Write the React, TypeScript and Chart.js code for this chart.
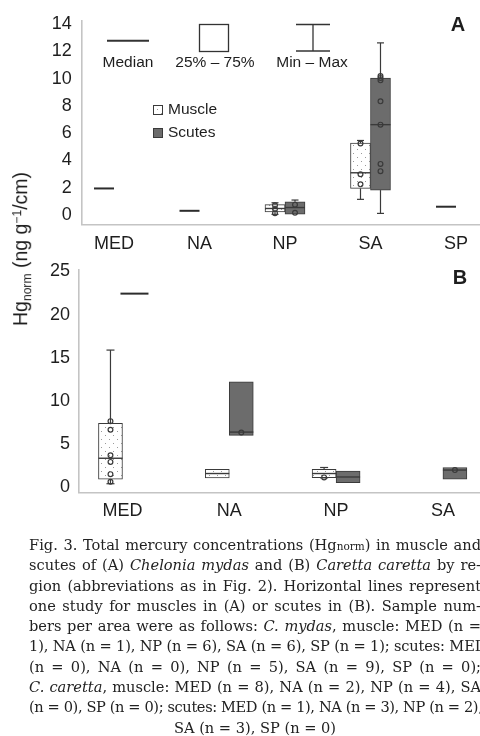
import React, { useEffect, useRef } from 'react';
import { Chart, registerables } from 'chart.js';
Chart.register(...registerables);

const FONT = "'Liberation Sans', Arial, Helvetica, sans-serif";
const TEXT = '#1e1e1e';
const AXIS = '#c4c4c4';
const EDGE = '#3a3a3a';
const SCUTE_FILL = '#6c6c6c';

// ---------- Panel A : Chelonia mydas ----------
const CATS_A = ['MED', 'NA', 'NP', 'SA', 'SP'];
const TICKS_A = [0, 2, 4, 6, 8, 10, 12, 14];
const A_MUSCLE_Q1 = [null, null, 0.22, 1.95, null];
const A_MUSCLE_Q3 = [null, null, 0.76, 5.28, null];
const A_MUSCLE_MEDIAN = [null, null, 0.48, 3.1, null];
const A_MUSCLE_MIN = [null, null, 0.05, 1.15, null];
const A_MUSCLE_MAX = [null, null, 0.9, 5.47, null];
const A_MUSCLE_POINTS = [[], [], [0.13, 0.45, 0.72], [5.25, 3.0, 2.25], []];
const A_SCUTES_Q1 = [null, null, 0.06, 1.83, null];
const A_SCUTES_Q3 = [null, null, 0.97, 10.05, null];
const A_SCUTES_MEDIAN = [null, null, 0.55, 6.63, null];
const A_SCUTES_MIN = [null, null, 0.06, 0.12, null];
const A_SCUTES_MAX = [null, null, 1.1, 12.63, null];
const A_SCUTES_POINTS = [[], [], [0.17, 0.76], [10.2, 10.05, 9.88, 8.34, 6.63, 3.75, 3.22], []];
const A_STUDY_MUSCLE = [1.95, 0.31, null, null, 0.61];

// ---------- Panel B : Caretta caretta ----------
const CATS_B = ['MED', 'NA', 'NP', 'SA'];
const TICKS_B = [0, 5, 10, 15, 20, 25];
const B_MUSCLE_Q1 = [0.95, 1.1, 1.12, null];
const B_MUSCLE_Q3 = [7.43, 2.1, 2.1, null];
const B_MUSCLE_MEDIAN = [3.37, 1.6, 1.6, null];
const B_MUSCLE_MIN = [0.42, 1.1, 1.1, null];
const B_MUSCLE_MAX = [15.9, 2.1, 2.3, null];
const B_MUSCLE_POINTS = [[7.67, 6.67, 3.72, 2.95, 1.53, 0.65], [], [1.15], []];
const B_SCUTES_Q1 = [null, 6.02, 0.53, 0.95];
const B_SCUTES_Q3 = [null, 12.23, 1.88, 2.3];
const B_SCUTES_MEDIAN = [null, 6.4, 1.2, 2.0];
const B_SCUTES_MIN = [null, 6.02, 0.53, 0.95];
const B_SCUTES_MAX = [null, 12.23, 1.88, 2.3];
const B_SCUTES_POINTS = [[], [6.35], [], [2.0]];
const B_STUDY_SCUTES = [22.44, null, null, null];

const LEGEND_MEDIAN = 'Median';
const LEGEND_IQR = '25% – 75%';
const LEGEND_RANGE = 'Min – Max';
const SERIES = ['Muscle', 'Scutes'];

function makePattern(): CanvasPattern | string {
  const c = document.createElement('canvas');
  c.width = 8; c.height = 8;
  const g = c.getContext('2d');
  if (!g) return '#ffffff';
  g.fillStyle = '#ffffff';
  g.fillRect(0, 0, 8, 8);
  g.fillStyle = '#9a9a9a';
  g.fillRect(1, 1, 1, 1);
  g.fillRect(5, 5, 1, 1);
  const p = g.createPattern(c, 'repeat');
  return p || '#ffffff';
}

function boxData(q1: (number | null)[], q3: (number | null)[]) {
  return q1
    .map((v, i) => (v == null ? null : { x: i, y: [v, q3[i] as number] }))
    .filter(Boolean);
}

function seg(ctx: CanvasRenderingContext2D, x1: number, y1: number, x2: number, y2: number) {
  ctx.beginPath();
  ctx.moveTo(x1, y1);
  ctx.lineTo(x2, y2);
  ctx.stroke();
}

function makeDecor(cfg: any) {
  return {
    id: 'decor',
    afterDatasetsDraw(chart: any) {
      const ctx: CanvasRenderingContext2D = chart.ctx;
      const xs = chart.scales.x;
      const ys = chart.scales.y;
      ctx.save();
      ctx.lineCap = 'butt';
      chart.data.datasets.forEach((ds: any, di: number) => {
        const st = ds.stats;
        if (!st) return;
        const meta = chart.getDatasetMeta(di);
        meta.data.forEach((el: any, k: number) => {
          const raw = ds.data[k];
          const i = raw.x;
          const cx = el.x;
          const half = el.width / 2;
          const yTop = ys.getPixelForValue(raw.y[1]);
          const yBot = ys.getPixelForValue(raw.y[0]);
          ctx.strokeStyle = EDGE;
          ctx.lineWidth = 1.2;
          const mx = st.max[i];
          const mn = st.min[i];
          if (mx != null && mx > raw.y[1]) {
            const yy = ys.getPixelForValue(mx);
            seg(ctx, cx, yTop, cx, yy);
            seg(ctx, cx - cfg.cap / 2, yy, cx + cfg.cap / 2, yy);
          }
          if (mn != null && mn < raw.y[0]) {
            const yy = ys.getPixelForValue(mn);
            seg(ctx, cx, yBot, cx, yy);
            seg(ctx, cx - cfg.cap / 2, yy, cx + cfg.cap / 2, yy);
          }
          if (st.median[i] != null) {
            ctx.lineWidth = 1.4;
            const ym = ys.getPixelForValue(st.median[i]);
            seg(ctx, cx - half, ym, cx + half, ym);
          }
          ctx.lineWidth = 1.2;
          (st.points[i] || []).forEach((p: number) => {
            ctx.beginPath();
            ctx.arc(cx, ys.getPixelForValue(p), 2.4, 0, Math.PI * 2);
            ctx.stroke();
          });
        });
      });
      // single-study horizontal lines
      const s = cfg.study;
      s.values.forEach((v: number | null, i: number) => {
        if (v == null) return;
        const cx = xs.getPixelForValue(i) + s.offset;
        const yy = ys.getPixelForValue(v);
        ctx.strokeStyle = '#2c2c2c';
        ctx.lineWidth = 2;
        seg(ctx, cx - s.width / 2, yy, cx + s.width / 2, yy);
      });
      ctx.restore();
    },
    afterDraw(chart: any) {
      const ctx: CanvasRenderingContext2D = chart.ctx;
      ctx.save();
      ctx.fillStyle = TEXT;
      ctx.font = `bold 20px ${FONT}`;
      ctx.textAlign = 'center';
      ctx.textBaseline = 'middle';
      ctx.fillText(cfg.panel, cfg.panelX, cfg.panelY);
      if (cfg.legend) {
        ctx.strokeStyle = '#333';
        ctx.lineWidth = 2;
        seg(ctx, 107, 40.7, 149, 40.7);
        ctx.lineWidth = 1.3;
        ctx.strokeRect(199.5, 24.5, 29, 27);
        seg(ctx, 296, 24.5, 330, 24.5);
        seg(ctx, 296, 51, 330, 51);
        seg(ctx, 313, 24.5, 313, 51);
        ctx.font = `15.5px ${FONT}`;
        ctx.fillStyle = TEXT;
        ctx.fillText(LEGEND_MEDIAN, 128, 63);
        ctx.fillText(LEGEND_IQR, 215, 63);
        ctx.fillText(LEGEND_RANGE, 312, 63);
        ctx.fillStyle = cfg.pattern;
        ctx.fillRect(153, 105, 9, 9);
        ctx.lineWidth = 1;
        ctx.strokeStyle = EDGE;
        ctx.strokeRect(153.5, 105.5, 9, 9);
        ctx.fillStyle = SCUTE_FILL;
        ctx.fillRect(153, 128, 9, 9);
        ctx.strokeRect(153.5, 128.5, 9, 9);
        ctx.fillStyle = TEXT;
        ctx.textAlign = 'left';
        ctx.fillText(SERIES[0], 168, 109.5);
        ctx.fillText(SERIES[1], 168, 132.5);
      }
      ctx.restore();
    },
  };
}

function buildChart(canvas: HTMLCanvasElement, p: any) {
  const pattern = makePattern();
  const datasets = [
    {
      label: SERIES[0],
      data: boxData(p.mq1, p.mq3),
      backgroundColor: pattern,
      borderColor: EDGE,
      borderWidth: 1,
      borderSkipped: false,
      barThickness: p.bar,
      stats: { median: p.mmed, min: p.mmin, max: p.mmax, points: p.mpts },
    },
    {
      label: SERIES[1],
      data: boxData(p.sq1, p.sq3),
      backgroundColor: SCUTE_FILL,
      borderColor: EDGE,
      borderWidth: 1,
      borderSkipped: false,
      barThickness: p.bar,
      stats: { median: p.smed, min: p.smin, max: p.smax, points: p.spts },
    },
  ];
  return new Chart(canvas, {
    type: 'bar',
    data: { datasets } as any,
    plugins: [makeDecor({ ...p.decor, pattern })],
    options: {
      responsive: false,
      animation: false,
      events: [],
      layout: { padding: { left: p.padLeft, right: p.padRight, top: p.padTop, bottom: 0 } },
      plugins: { legend: { display: false }, tooltip: { enabled: false } },
      scales: {
        x: {
          type: 'linear',
          min: p.xMin,
          max: p.xMax,
          offset: false,
          grid: { display: false, drawTicks: false },
          border: { display: true, color: AXIS, width: 1.6 },
          ticks: {
            autoSkip: false,
            maxRotation: 0,
            padding: p.xPad,
            color: TEXT,
            font: { family: FONT, size: 18 },
            callback: (_v: any, idx: number) => p.cats[idx],
          },
          afterBuildTicks: (s: any) => {
            s.ticks = p.cats.map((_c: string, i: number) => ({ value: i }));
          },
          afterFit: (s: any) => {
            s.height = p.xAxisH;
          },
        },
        y: {
          type: 'linear',
          min: p.yMin,
          max: p.yMax,
          grid: { display: false, drawTicks: false },
          border: { display: true, color: AXIS, width: 1.6 },
          ticks: {
            padding: p.yPad,
            color: TEXT,
            font: { family: FONT, size: 18 },
            callback: (v: any) => String(v),
          },
          afterBuildTicks: (s: any) => {
            s.ticks = p.yTicks.map((v: number) => ({ value: v }));
          },
          afterFit: (s: any) => {
            s.width = p.yAxisW;
          },
        },
      },
    } as any,
  });
}

function Panel({ top, width, height, params }: any) {
  const ref = useRef<HTMLCanvasElement>(null);
  useEffect(() => {
    if (!ref.current) return;
    const ch = buildChart(ref.current, params);
    return () => ch.destroy();
  }, []);
  return (
    <canvas
      ref={ref}
      width={width}
      height={height}
      style={{ position: 'absolute', left: 0, top, width, height }}
    />
  );
}

const PARAMS_A = {
  cats: CATS_A,
  yTicks: TICKS_A,
  mq1: A_MUSCLE_Q1, mq3: A_MUSCLE_Q3, mmed: A_MUSCLE_MEDIAN, mmin: A_MUSCLE_MIN, mmax: A_MUSCLE_MAX, mpts: A_MUSCLE_POINTS,
  sq1: A_SCUTES_Q1, sq3: A_SCUTES_Q3, smed: A_SCUTES_MEDIAN, smin: A_SCUTES_MIN, smax: A_SCUTES_MAX, spts: A_SCUTES_POINTS,
  bar: 20,
  xMin: -0.378, xMax: 4.378,
  yMin: -0.68, yMax: 14.25,
  padLeft: 31.7, padRight: 21.7, padTop: 19.9,
  yAxisW: 50, xAxisH: 35.7,
  xPad: 9, yPad: 10,
  decor: { cap: 7, panel: 'A', panelX: 458, panelY: 25, legend: true, study: { values: A_STUDY_MUSCLE, offset: -10, width: 20 } },
};

const PARAMS_B = {
  cats: CATS_B,
  yTicks: TICKS_B,
  mq1: B_MUSCLE_Q1, mq3: B_MUSCLE_Q3, mmed: B_MUSCLE_MEDIAN, mmin: B_MUSCLE_MIN, mmax: B_MUSCLE_MAX, mpts: B_MUSCLE_POINTS,
  sq1: B_SCUTES_Q1, sq3: B_SCUTES_Q3, smed: B_SCUTES_MEDIAN, smin: B_SCUTES_MIN, smax: B_SCUTES_MAX, spts: B_SCUTES_POINTS,
  bar: 24,
  xMin: -0.407, xMax: 3.6,
  yMin: -0.62, yMax: 25.2,
  padLeft: 29, padRight: 3, padTop: 18.3,
  yAxisW: 50, xAxisH: 34.3,
  xPad: 8, yPad: 9,
  decor: { cap: 8, panel: 'B', panelX: 460, panelY: 28.3, legend: false, study: { values: B_STUDY_SCUTES, offset: 12, width: 28 } },
};

const lineStyle: React.CSSProperties = {
  height: 20.3,
  lineHeight: '20.3px',
  textAlign: 'justify',
  textAlignLast: 'justify' as any,
  whiteSpace: 'normal',
  overflow: 'hidden',
};

const longLine: React.CSSProperties = {
  ...lineStyle,
  textAlign: 'left',
  textAlignLast: 'left' as any,
  whiteSpace: 'nowrap',
  overflow: 'visible',
};

export default function App() {
  return (
    <div
      style={{
        position: 'fixed', left: 0, top: 0, width: 480, height: 736,
        overflow: 'hidden', background: '#ffffff',
      }}
    >
      <Panel top={0} width={510} height={260} params={PARAMS_A} />
      <Panel top={250} width={510} height={277} params={PARAMS_B} />
      <div
        style={{
          position: 'absolute', left: 22, top: 249,
          transform: 'translate(-50%, -50%) rotate(-90deg)',
          whiteSpace: 'nowrap', fontFamily: FONT, fontSize: 19.5, color: TEXT, lineHeight: '24px',
        }}
      >
        Hg<span style={{ fontSize: '0.62em', verticalAlign: '-0.3em' }}>norm</span> (ng g
        <span style={{ fontSize: '0.62em', verticalAlign: '0.5em' }}>−1</span>/cm)
      </div>
      <div
        style={{
          position: 'absolute', left: 29, top: 535, width: 452,
          fontFamily: "'DejaVu Serif', serif", fontSize: 14.6, color: '#222222',
        }}
      >
        <div style={lineStyle}>Fig. 3. Total mercury concentrations (Hg<span style={{ fontSize: '0.72em' }}>norm</span>) in muscle and</div>
        <div style={lineStyle}>scutes of (A) <i>Chelonia mydas</i> and (B) <i>Caretta caretta</i> by re-</div>
        <div style={lineStyle}>gion (abbreviations as in Fig. 2). Horizontal lines represent</div>
        <div style={lineStyle}>one study for muscles in (A) or scutes in (B). Sample num-</div>
        <div style={lineStyle}>bers per area were as follows: <i>C. mydas</i>, muscle: MED (n =</div>
        <div style={{ ...longLine, letterSpacing: '-0.15px' }}>1), NA (n = 1), NP (n = 6), SA (n = 6), SP (n = 1); scutes: MED</div>
        <div style={lineStyle}>(n = 0), NA (n = 0), NP (n = 5), SA (n = 9), SP (n = 0);</div>
        <div style={lineStyle}><i>C. caretta</i>, muscle: MED (n = 8), NA (n = 2), NP (n = 4), SA</div>
        <div style={{ ...longLine, letterSpacing: '-0.38px' }}>(n = 0), SP (n = 0); scutes: MED (n = 1), NA (n = 3), NP (n = 2),</div>
        <div style={{ ...lineStyle, textAlign: 'center', textAlignLast: 'center' as any }}>SA (n = 3), SP (n = 0)</div>
      </div>
    </div>
  );
}
